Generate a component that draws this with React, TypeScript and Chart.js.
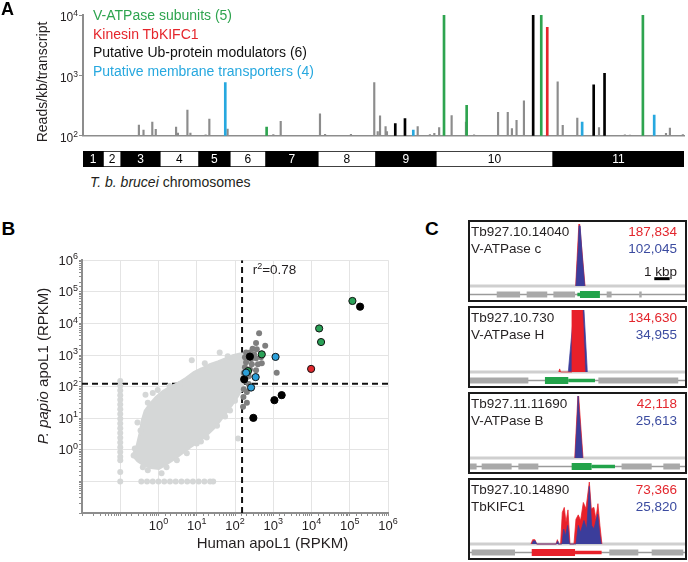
import React, { useEffect, useRef } from 'react';
import { Chart, registerables } from 'chart.js';

Chart.register(...registerables);

const FONT = '"Liberation Sans", Arial, Helvetica, sans-serif';
Chart.defaults.font.family = FONT;

// ---------------- Panel A data (genome position in Mb) ----------------
const chromosomeNames = ['1', '2', '3', '4', '5', '6', '7', '8', '9', '10', '11'];
const chromosomeBoundsMb = [0, 0.87, 1.65, 3.33, 5.02, 6.36, 7.92, 10.17, 12.68, 15.28, 20.35, 26.02];

const grayPos = [2.42, 2.62, 3.0, 3.15, 4.03, 4.11, 4.52, 4.65, 5.31, 5.47, 6.26, 8.24, 8.56, 10.26, 10.48, 11.6, 12.61, 12.76, 12.86, 13.1, 13.16, 14.49, 15.02, 15.21, 15.42, 15.96, 16.58, 16.93, 17.97, 18.39, 18.57, 18.77, 19.09, 20.55, 20.77, 21.4, 22.34, 23.46, 23.68, 25.24, 25.41, 25.97];
const grayVal = [150, 124, 168, 128, 140, 111, 266, 111, 104, 190, 129, 105, 174, 230, 106, 106, 761, 117, 214, 142, 117, 142, 105, 110, 137, 217, 168, 104, 245, 245, 132, 180, 378, 780, 149, 197, 137, 104, 103, 110, 134, 105];
const blackPos = [13.52, 13.94, 19.49, 22.11, 22.58];
const blackVal = [160, 192, 10000, 700, 1084];
const greenPos = [7.95, 15.63, 16.61, 19.84, 24.24];
const greenVal = [140, 10000, 319, 10000, 10000];
const redPos = [20.1];
const redVal = [6240];
const bluePos = [6.16, 14.3, 21.61, 24.73];
const blueVal = [761, 124, 168, 220];

const legendLabels = ['V-ATPase subunits (5)', 'Kinesin TbKIFC1', 'Putative Ub-protein modulators (6)', 'Putative membrane transporters (4)'];

// ---------------- Panel B data (log10 RPKM: [human, P. papio]) ----------------
const humanCutoff = 153;
const papioCutoff = 122;
const cloudOutlineLog = [[-0.68, -0.18], [-0.57, 0.14], [-0.49, 0.55], [-0.44, 0.92], [-0.36, 1.24], [-0.23, 1.45], [-0.07, 1.67], [0.11, 1.86], [0.29, 1.99], [0.5, 2.11], [0.71, 2.27], [0.92, 2.46], [1.13, 2.58], [1.34, 2.71], [1.55, 2.8], [1.76, 2.9], [1.94, 2.99], [2.13, 3.05], [2.21, 3.05], [2.21, 2.02], [2.13, 1.8], [2.02, 1.58], [1.89, 1.36], [1.76, 1.14], [1.6, 0.89], [1.45, 0.67], [1.26, 0.45], [1.05, 0.26], [0.84, 0.08], [0.63, -0.11], [0.42, -0.3], [0.21, -0.46], [0.01, -0.61], [-0.2, -0.58], [-0.39, -0.49], [-0.55, -0.36]];
const cloudEdgeLog = [[-0.34, 1.74], [-0.15, 1.8], [-0.02, 1.89], [0.56, 2.08], [0.87, 2.83], [1.6, 3.08], [1.42, 2.65], [2.08, 0.36], [1.87, 1.24], [1.53, 0.76], [1.26, 0.39], [1.0, 0.2], [0.74, -0.11], [0.48, -0.33], [0.21, -0.55], [0.08, -0.74], [-0.28, -0.65], [-0.41, -0.55], [-0.65, -0.18], [-0.62, 0.04], [-0.55, 0.86], [-0.47, 0.61], [-0.28, 1.49], [1.11, 0.26], [1.74, 1.05], [2.0, 1.55], [2.15, 1.92], [0.29, 2.02], [1.81, 2.96], [1.21, 2.74]];
const zeroColumnLogY = [2.18, 2.03, 1.88, 1.73, 1.58, 1.43, 1.28, 1.13, 0.98, 0.83, 0.68, 0.53, 0.38, 0.23, 0.08, -0.07, -0.22, -0.33, -0.7, -1.0];
const zeroRowLogX = [-0.45, -0.3, -0.15, 0.0, 0.15, 0.3, 0.45, 0.6, 0.75, 0.9, 1.05, 1.2, 1.35, 1.43];
const darkLog = [[2.63, 3.69], [2.55, 3.38], [2.79, 3.29], [2.46, 3.2], [2.57, 3.18], [2.29, 3.08], [2.39, 3.08], [2.26, 2.93], [2.42, 2.87], [2.55, 2.9], [2.68, 2.93], [2.29, 2.77], [2.44, 2.71], [2.6, 2.71], [2.7, 2.74], [2.26, 2.61], [2.39, 2.55], [2.55, 2.52], [2.23, 2.43], [2.36, 2.33], [2.26, 2.18], [2.36, 2.08], [2.23, 1.92], [2.31, 1.83], [2.22, 1.67], [2.31, 1.49], [2.21, 1.36], [3.09, 2.44], [2.7, 3.05], [2.5, 3.02]];
const greenLog = [[5.07, 4.71], [4.2, 3.84], [4.25, 3.41], [2.7, 3.02], [2.34, 2.49]];
const blackLog = [[5.27, 4.53], [2.39, 2.95], [2.24, 2.23], [3.03, 1.57], [3.22, 1.73], [2.48, 1.01]];
const blueLog = [[3.06, 2.94], [2.29, 2.44], [2.54, 2.3], [2.42, 1.97]];
const redLog = [[3.99, 2.56]];

// ---------------- Panel C data (kbp, normalised coverage) ----------------
const geneIds = ['Tb927.10.14040', 'Tb927.10.730', 'Tb927.11.11690', 'Tb927.10.14890'];
const geneNames = ['V-ATPase c', 'V-ATPase H', 'V-ATPase B', 'TbKIFC1'];
const redCounts = ['187,834', '134,630', '42,118', '73,366'];
const blueCounts = ['102,045', '34,955', '25,613', '25,820'];
const redCoverage = [
  [[6.88, 0], [7.09, 1.0], [7.14, 1.0], [7.49, 0]],
  [[5.78, 0], [5.84, 0.05], [5.9, 0], [6.58, 0], [6.64, 1.0], [7.33, 1.0], [7.49, 0]],
  [[6.82, 0], [7.03, 1.02], [7.07, 1.02], [7.36, 0]],
  [[3.97, 0], [4.08, 0.07], [4.23, 0.07], [4.34, 0], [5.6, 0], [5.69, 0.07], [5.77, 0], [5.9, 0], [6.01, 0.51], [6.14, 0.59], [6.25, 0.35], [6.38, 0.55], [6.51, 0], [6.77, 0], [6.9, 0.4], [7.05, 0.47], [7.2, 0.38], [7.38, 0.67], [7.55, 0.57], [7.77, 1.0], [7.9, 0.57], [8.07, 0.59], [8.2, 0.4], [8.33, 0.65], [8.46, 0.3], [8.59, 0]],
];
const blueCoverage = [
  [[6.9, 0], [7.05, 0.62], [7.1, 0.97], [7.17, 0.97], [7.3, 0.5], [7.47, 0]],
  [[6.4, 0], [6.77, 1.0], [7.42, 1.0], [7.64, 0]],
  [[6.85, 0], [6.98, 0.6], [7.04, 1.0], [7.1, 0.75], [7.33, 0]],
  [[4.04, 0], [4.12, 0.05], [4.25, 0.05], [4.34, 0], [5.64, 0], [5.69, 0.04], [5.73, 0], [5.99, 0], [6.1, 0.24], [6.21, 0.13], [6.36, 0.3], [6.47, 0], [6.9, 0], [7.05, 0.3], [7.2, 0.19], [7.42, 0.38], [7.6, 0.24], [7.77, 0.93], [7.92, 0.3], [8.07, 0.24], [8.31, 0.48], [8.46, 0.13], [8.55, 0]],
];
const redInFront = [false, true, false, false];
const otherExons = [
  [[1.74, 3.26], [3.69, 5.03], [5.43, 6.84], [8.9, 9.22], [11.02, 11.18]],
  [[0, 3.8], [8.36, 13.56]],
  [[0, 0.43], [0.76, 2.71], [3.15, 4.45], [9.87, 11.83], [12.59, 13.67]],
  [[0.11, 2.93], [9.07, 10.96], [11.83, 13.89]],
];
const targetCds = [[[7.16, 8.46]], [[4.88, 6.4]], [[6.62, 7.92]], [[4.02, 6.84]]];
const targetUtr = [[[6.99, 7.16]], [[6.4, 8.14]], [[7.92, 9.44]], [[6.84, 8.57]]];
const targetIsKinesin = [false, false, false, true];
const scaleBarKb = [12.0, 13.0];

// ---------------- styles ----------------
const INK = '#231f20';
const GREEN = '#2ea44f';
const RED = '#e5262c';
const BLUE = '#27a8df';
const SPIKE_GRAY = '#8c8c8c';
const AXIS_GRAY = '#8d8d8d';
const LIGHT = '#d5d7d7';
const DARK = '#7f7f7f';
const COV_RED = '#e8202a';
const COV_BLUE = '#3b3d9b';
const NUM_RED = '#e3262d';
const NUM_BLUE = '#3b4ba0';
const GENE_Y = -0.137;

function powerLabels(items: any[]) {
  return {
    id: 'powerLabels',
    afterDraw(chart: any) {
      const ctx = chart.ctx;
      for (const it of items) {
        const scale = chart.scales[it.axis];
        for (const e of it.exps) {
          const p = scale.getPixelForValue(Math.pow(10, e));
          ctx.save();
          ctx.fillStyle = INK;
          ctx.textBaseline = 'alphabetic';
          ctx.textAlign = 'left';
          const es = String(e);
          ctx.font = `${it.size}px ${FONT}`;
          const w1 = ctx.measureText('10').width;
          ctx.font = `${it.sup}px ${FONT}`;
          const w2 = ctx.measureText(es).width;
          const capHalf = it.size * 0.358;
          let x: number, yb: number;
          if (it.axis === 'y') {
            x = it.right - w1 - w2;
            yb = p + capHalf + (it.dy || 0);
          } else {
            x = p - (w1 + w2) / 2;
            yb = it.center + capHalf;
          }
          ctx.font = `${it.size}px ${FONT}`;
          ctx.fillText('10', x, yb);
          ctx.font = `${it.sup}px ${FONT}`;
          ctx.fillText(es, x + w1, yb - it.size * 0.42);
          ctx.restore();
        }
      }
    },
  };
}

const isDecade = (v: number) => {
  const l = Math.log10(v);
  return Math.abs(l - Math.round(l)) < 1e-6;
};

const baseOptions = {
  animation: false,
  responsive: false,
  maintainAspectRatio: false,
  devicePixelRatio: 1,
  events: [],
  plugins: { legend: { display: false }, tooltip: { enabled: false } },
};

function configA(): any {
  const mk = (pos: number[], val: number[], color: string, w: number, order: number) => ({
    type: 'bar',
    data: pos.map((p, i) => ({ x: p, y: val[i] })),
    backgroundColor: color,
    borderWidth: 0,
    barThickness: w,
    grouped: false,
    order,
  });
  return {
    type: 'bar',
    data: {
      datasets: [
        mk(grayPos, grayVal, SPIKE_GRAY, 1.5, 5),
        mk(blackPos, blackVal, '#000', 2, 1),
        mk(greenPos, greenVal, GREEN, 2, 1),
        mk(redPos, redVal, RED, 2, 1),
        mk(bluePos, blueVal, BLUE, 2, 1),
      ],
    },
    options: {
      ...baseOptions,
      layout: { padding: { left: 0, right: 4, top: 15, bottom: 4 } },
      scales: {
        x: {
          type: 'linear', min: 0, max: chromosomeBoundsMb[chromosomeBoundsMb.length - 1], offset: false,
          grid: { display: false, drawTicks: false }, ticks: { display: false },
          border: { color: AXIS_GRAY, width: 1.5 },
        },
        y: {
          type: 'logarithmic', min: 100, max: 10000,
          afterBuildTicks: (s: any) => { s.ticks = [100, 1000, 10000].map((v) => ({ value: v })); },
          afterFit: (s: any) => { s.width = 83; },
          ticks: { callback: () => '', autoSkip: false },
          grid: { drawOnChartArea: false, drawTicks: true, tickLength: 4, color: AXIS_GRAY },
          border: { color: AXIS_GRAY, width: 2 },
        },
      },
    },
    plugins: [powerLabels([{ axis: 'y', exps: [2, 3, 4], size: 12, sup: 8.5, right: 78, dy: 2 }])],
  };
}

function configChrom(): any {
  const colors = chromosomeNames.map((_, i) => (i % 2 === 0 ? '#000' : '#fff'));
  return {
    type: 'bar',
    data: {
      labels: ['genome'],
      datasets: [{
        data: chromosomeNames.map((_, i) => ({ x: [chromosomeBoundsMb[i], chromosomeBoundsMb[i + 1]], y: 'genome' })),
        backgroundColor: colors,
        borderColor: '#000',
        borderWidth: 1,
        borderSkipped: false,
        barPercentage: 1,
        categoryPercentage: 1,
      }],
    },
    options: {
      ...baseOptions,
      indexAxis: 'y',
      layout: { padding: { left: 83, right: 4, top: 3, bottom: 3 } },
      scales: {
        x: { type: 'linear', min: 0, max: chromosomeBoundsMb[chromosomeBoundsMb.length - 1], display: false },
        y: { display: false },
      },
    },
    plugins: [{
      id: 'chromLabels',
      afterDatasetsDraw(chart: any) {
        const ctx = chart.ctx;
        const meta = chart.getDatasetMeta(0);
        ctx.save();
        ctx.font = `12px ${FONT}`;
        ctx.textAlign = 'center';
        ctx.textBaseline = 'middle';
        meta.data.forEach((el: any, i: number) => {
          const { x, y, base } = el.getProps(['x', 'y', 'base'], true);
          ctx.fillStyle = i % 2 === 0 ? '#fff' : '#000';
          ctx.fillText(chromosomeNames[i], (x + base) / 2, y + 1);
        });
        ctx.restore();
      },
    }],
  };
}

function configB(): any {
  const toPts = (arr: number[][]) => arr.map(([lx, ly]) => ({ x: Math.pow(10, lx), y: Math.pow(10, ly) }));
  const closed = [...cloudOutlineLog, cloudOutlineLog[0]];
  const zeros = [...zeroColumnLogY.map((ly) => [-1, ly]), ...zeroRowLogX.map((lx) => [lx, -1])];
  const pt = (data: number[][], color: string, r: number, order: number, border?: string) => ({
    type: 'scatter',
    data: toPts(data),
    backgroundColor: color,
    borderColor: border || color,
    borderWidth: border ? 1 : 0,
    pointRadius: r,
    order,
  });
  const axisCommon = {
    type: 'logarithmic', min: 0.01, max: 1e6,
    ticks: { callback: () => '', autoSkip: false },
    grid: {
      color: (c: any) => (c.tick && isDecade(c.tick.value) ? '#e4e4e4' : 'rgba(0,0,0,0)'),
      tickColor: AXIS_GRAY, tickLength: 3, lineWidth: 1, drawTicks: true,
    },
    border: { color: AXIS_GRAY, width: 2 },
  };
  return {
    type: 'scatter',
    data: {
      datasets: [
        { type: 'line', data: [{ x: humanCutoff, y: 0.01 }, { x: humanCutoff, y: 1e6 }], borderColor: '#111', borderWidth: 2, borderDash: [6, 4], pointRadius: 0, fill: false, order: 30 },
        { type: 'line', data: [{ x: 0.01, y: papioCutoff }, { x: 1e6, y: papioCutoff }], borderColor: '#111', borderWidth: 2, borderDash: [6, 4], pointRadius: 0, fill: false, order: 30 },
        { type: 'line', data: toPts(closed), fill: 'shape', backgroundColor: LIGHT, borderColor: LIGHT, borderWidth: 2, pointRadius: 0, tension: 0, order: 25 },
        pt(cloudEdgeLog, LIGHT, 3, 24),
        pt(zeros, LIGHT, 3, 24),
        pt(darkLog, DARK, 3, 20),
        pt(greenLog, '#2aa157', 3.6, 4, '#111'),
        pt(blackLog, '#000', 3.6, 3, '#000'),
        pt(blueLog, '#2b9fd9', 3.6, 2, '#111'),
        pt(redLog, '#e0282e', 3.6, 1, '#111'),
      ],
    },
    options: {
      ...baseOptions,
      layout: { padding: { left: 0, right: 12, top: 8, bottom: 0 } },
      scales: {
        x: { ...axisCommon, afterFit: (s: any) => { s.height = 27; } },
        y: { ...axisCommon, afterFit: (s: any) => { s.width = 82; } },
      },
    },
    plugins: [powerLabels([
      { axis: 'y', exps: [0, 1, 2, 3, 4, 5, 6], size: 13, sup: 9, right: 78 },
      { axis: 'x', exps: [0, 1, 2, 3, 4, 5, 6], size: 13, sup: 9, center: 275 },
    ])],
  };
}

function configC(i: number): any {
  const seg = (ranges: number[][]) => ranges.flatMap(([s, e]) => [{ x: s, y: GENE_Y }, { x: e, y: GENE_Y }, { x: e, y: null }]);
  const cov = (arr: number[][]) => arr.map(([x, y]) => ({ x, y }));
  const tColor = targetIsKinesin[i] ? COV_RED : '#22a34a';
  const datasets: any[] = [
    { data: [{ x: 0, y: 0 }, { x: 14, y: 0 }], borderColor: '#cfcfcf', borderWidth: 3, order: 50 },
    { data: cov(redCoverage[i]), fill: 'origin', backgroundColor: COV_RED, borderColor: COV_RED, borderWidth: 0.75, order: redInFront[i] ? 30 : 40 },
    { data: cov(blueCoverage[i]), fill: 'origin', backgroundColor: COV_BLUE, borderColor: COV_BLUE, borderWidth: 0.75, order: redInFront[i] ? 40 : 30 },
    { data: [{ x: 0, y: GENE_Y }, { x: 14, y: GENE_Y }], borderColor: '#9a9a9a', borderWidth: 1.5, order: 20 },
    { data: seg(otherExons[i]), borderColor: '#a9a9a9', borderWidth: 6, spanGaps: false, order: 10 },
    { data: seg(targetUtr[i]), borderColor: tColor, borderWidth: 3.5, spanGaps: false, order: 9 },
    { data: seg(targetCds[i]), borderColor: tColor, borderWidth: 7, spanGaps: false, order: 8 },
  ];
  if (i === 0) {
    datasets.push({ data: [{ x: scaleBarKb[0], y: 0.118 }, { x: scaleBarKb[1], y: 0.118 }], borderColor: '#000', borderWidth: 3, order: 1 });
  }
  return {
    type: 'line',
    data: { datasets },
    options: {
      ...baseOptions,
      elements: { point: { radius: 0 }, line: { tension: 0 } },
      layout: { padding: { left: 0, right: 0, top: 2, bottom: 0 } },
      scales: {
        x: { type: 'linear', min: 0, max: 14, display: false },
        y: { type: 'linear', min: -0.2258, max: 1, display: false },
      },
    },
  };
}

function ChartCanvas({ make, left, top, width, height }: { make: () => any; left: number; top: number; width: number; height: number }) {
  const ref = useRef<HTMLCanvasElement | null>(null);
  useEffect(() => {
    const ch = new Chart(ref.current as HTMLCanvasElement, make());
    return () => ch.destroy();
  }, []);
  return <canvas ref={ref} width={width} height={height} style={{ position: 'absolute', left, top, width, height }} />;
}

type TP = { x: number; y: number; size: number; color?: string; bold?: boolean; right?: boolean; children: React.ReactNode };
function Txt({ x, y, size, color = INK, bold, right, children }: TP) {
  const style: React.CSSProperties = {
    position: 'absolute', top: y - size * 0.49, fontSize: size, lineHeight: `${size}px`,
    fontFamily: FONT, color, whiteSpace: 'nowrap', fontWeight: bold ? 700 : 400,
  };
  if (right) style.right = x; else style.left = x;
  return <div style={style}>{children}</div>;
}

function VTxt({ cx, cy, size, children }: { cx: number; cy: number; size: number; children: React.ReactNode }) {
  return (
    <div style={{ position: 'absolute', left: cx, top: cy, transform: 'translate(-50%,-50%) rotate(-90deg)', fontSize: size, lineHeight: `${size}px`, fontFamily: FONT, color: INK, whiteSpace: 'nowrap' }}>
      {children}
    </div>
  );
}

const boxTops = [220, 306, 392, 478];

function GeneBox({ i }: { i: number }) {
  return (
    <div style={{ position: 'absolute', left: 468, top: boxTops[i], width: 219, height: 82, border: '2px solid #1a1a1a', boxSizing: 'border-box' }}>
      <ChartCanvas make={() => configC(i)} left={0} top={0} width={215} height={78} />
      <Txt x={1} y={9.7} size={13.5}>{geneIds[i]}</Txt>
      <Txt x={1} y={26.3} size={13.5}>{geneNames[i]}</Txt>
      <Txt right x={8} y={9.7} size={13.5} color={NUM_RED}>{redCounts[i]}</Txt>
      <Txt right x={8} y={26.3} size={13.5} color={NUM_BLUE}>{blueCounts[i]}</Txt>
      {i === 0 && <Txt right x={8} y={49.7} size={13.5}>1 kbp</Txt>}
    </div>
  );
}

export default function App() {
  const legendColors = [GREEN, RED, '#111', BLUE];
  const legendY = [15, 33.5, 52, 70.5];
  return (
    <div style={{ position: 'absolute', left: 0, top: 0, width: 688, height: 562, background: '#fff', overflow: 'hidden', fontFamily: FONT }}>
      <ChartCanvas make={configA} left={0} top={0} width={688} height={146} />
      <ChartCanvas make={configChrom} left={0} top={148} width={688} height={22} />
      <ChartCanvas make={configB} left={0} top={250} width={400} height={290} />
      {geneIds.map((_, i) => <GeneBox key={i} i={i} />)}

      <Txt x={1} y={8.5} size={18} bold color="#000">A</Txt>
      <Txt x={1.5} y={228} size={19} bold color="#000">B</Txt>
      <Txt x={425} y={228} size={19} bold color="#000">C</Txt>

      {legendLabels.map((l, i) => (
        <Txt key={l} x={93} y={legendY[i]} size={14} color={legendColors[i]}>{l}</Txt>
      ))}
      <VTxt cx={42} cy={82} size={14}>Reads/kb/transcript</VTxt>
      <Txt x={90} y={181.7} size={14}><i>T. b. brucei</i> chromosomes</Txt>

      <Txt x={252.7} y={270} size={13.5}>r<span style={{ fontSize: 9, position: 'relative', top: -5 }}>2</span>=0.78</Txt>
      <VTxt cx={41.7} cy={366} size={15}><i>P. papio</i> apoL1 (RPKM)</VTxt>
      <div style={{ position: 'absolute', left: 272.5, top: 542.7 - 15 * 0.49, transform: 'translateX(-50%)', fontSize: 15, lineHeight: '15px', fontFamily: FONT, color: INK, whiteSpace: 'nowrap' }}>Human apoL1 (RPKM)</div>
    </div>
  );
}
